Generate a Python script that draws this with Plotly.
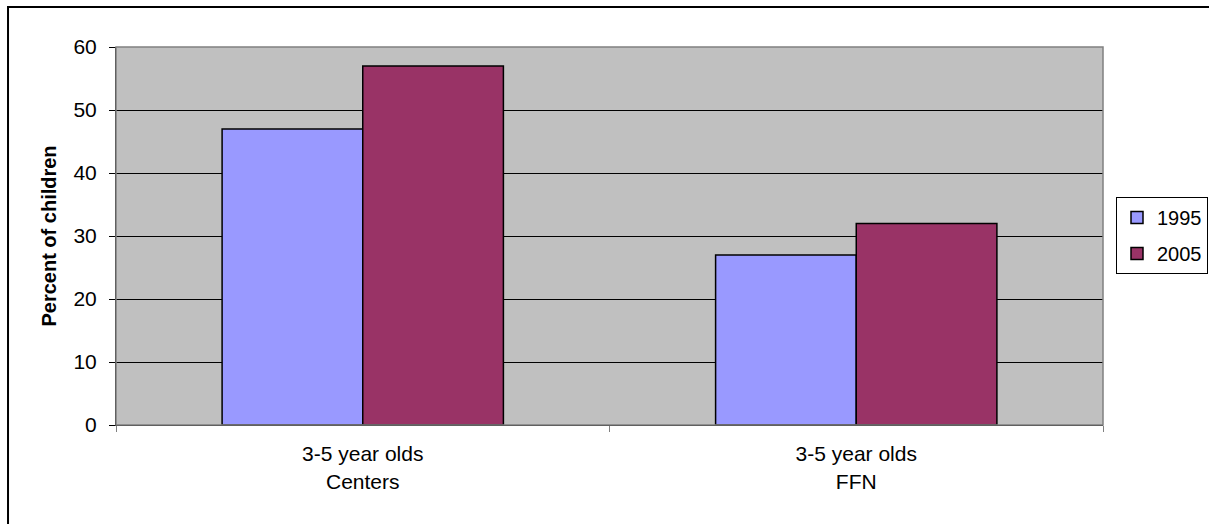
import plotly.graph_objects as go

# Share of 3-5 year olds by care arrangement
categories = ["3-5 year olds<br>Centers", "3-5 year olds<br>FFN"]
years = ["1995", "2005"]
values_1995 = [47, 27]
values_2005 = [57, 32]
y_ticks = [0, 10, 20, 30, 40, 50, 60]

colors = {"1995": "#9999FF", "2005": "#993366"}
FONT = "Liberation Sans, Arial, sans-serif"
FS = 21

fig = go.Figure()
for year, vals in zip(years, [values_1995, values_2005]):
    fig.add_trace(go.Bar(
        x=categories,
        y=vals,
        name=year,
        legendgroup=year,
        marker=dict(color=colors[year], line=dict(color="#000000", width=1.5)),
    ))

fig.update_layout(
    width=1209,
    height=524,
    margin=dict(l=116, r=106, t=47, b=99, pad=0, autoexpand=False),
    paper_bgcolor="#FFFFFF",
    plot_bgcolor="#C0C0C0",
    barmode="group",
    bargap=0.43,
    bargroupgap=0,
    font=dict(family=FONT, size=FS, color="#000000"),
    showlegend=True,
    legend=dict(
        xref="container", yref="container",
        x=1116 / 1209, y=1 - 197 / 524, xanchor="left", yanchor="top",
        bgcolor="#FFFFFF", bordercolor="#000000", borderwidth=1,
        font=dict(family=FONT, size=20, color="#000000"),
        tracegroupgap=7,
        traceorder="grouped",
    ),
    xaxis=dict(
        type="category",
        range=[-0.5, 1.5],
        showgrid=False,
        zeroline=False,
        showline=True, linecolor="#000000", linewidth=1,
        ticks="outside", tickson="boundaries", ticklen=6,
        tickcolor="#808080",
        ticklabelstandoff=10,
        tickfont=dict(family=FONT, size=FS),
    ),
    yaxis=dict(
        range=[0, 60],
        tickvals=y_ticks,
        showgrid=True, gridcolor="#000000", gridwidth=1,
        zeroline=False,
        showline=True, linecolor="#000000", linewidth=1,
        ticks="outside", ticklen=6, tickcolor="#000000",
        ticklabelstandoff=8,
        tickfont=dict(family=FONT, size=FS),
        title=dict(text="<b>Percent of children</b>", font=dict(family=FONT, size=20), standoff=11),
    ),
    shapes=[
        # gray frame around the plot area
        dict(type="rect", xref="paper", yref="paper", x0=0, x1=1, y0=0, y1=1,
             line=dict(color="#808080", width=1.5), layer="above"),
        # outer chart border
        dict(type="rect", xref="paper", yref="paper", x0=-0.1094, x1=1.3, y0=-0.5, y1=1.1058,
             line=dict(color="#000000", width=2), layer="above"),
    ],
)

fig.write_html("out.html")
